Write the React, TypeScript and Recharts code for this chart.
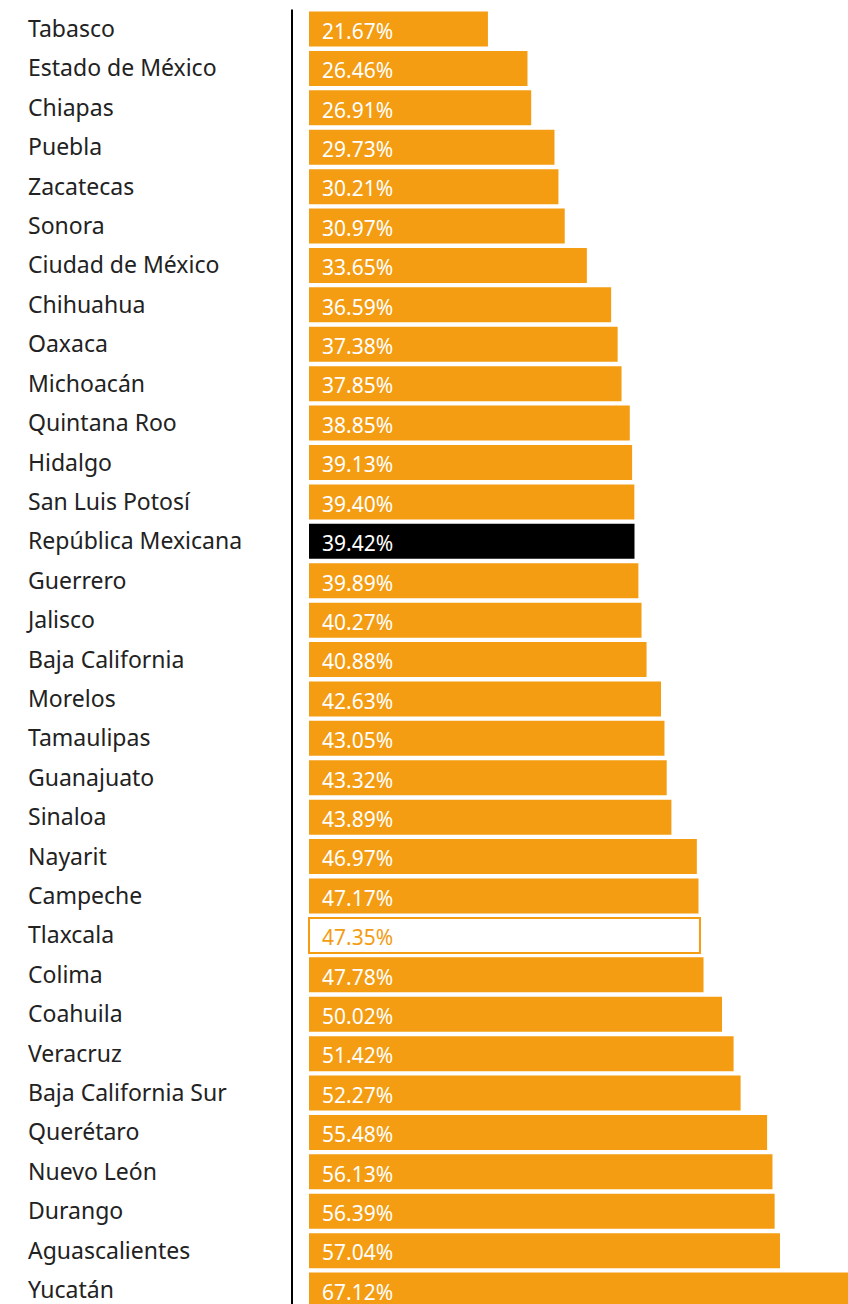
import { BarChart, Bar, XAxis, YAxis, Cell, LabelList } from "recharts";

const states = [
  "Tabasco",
  "Estado de México",
  "Chiapas",
  "Puebla",
  "Zacatecas",
  "Sonora",
  "Ciudad de México",
  "Chihuahua",
  "Oaxaca",
  "Michoacán",
  "Quintana Roo",
  "Hidalgo",
  "San Luis Potosí",
  "República Mexicana",
  "Guerrero",
  "Jalisco",
  "Baja California",
  "Morelos",
  "Tamaulipas",
  "Guanajuato",
  "Sinaloa",
  "Nayarit",
  "Campeche",
  "Tlaxcala",
  "Colima",
  "Coahuila",
  "Veracruz",
  "Baja California Sur",
  "Querétaro",
  "Nuevo León",
  "Durango",
  "Aguascalientes",
  "Yucatán",
];

const values = [
  21.67, 26.46, 26.91, 29.73, 30.21, 30.97, 33.65, 36.59, 37.38, 37.85, 38.85,
  39.13, 39.4, 39.42, 39.89, 40.27, 40.88, 42.63, 43.05, 43.32, 43.89, 46.97,
  47.17, 47.35, 47.78, 50.02, 51.42, 52.27, 55.48, 56.13, 56.39, 57.04, 67.12,
];

const nationalName = "República Mexicana";
const outlinedName = "Tlaxcala";

const ORANGE = "#F49C12";

const data = states.map((name, i) => ({ name, value: values[i] }));

const StateTick = (props: any) => (
  <text
    x={28}
    y={props.y}
    dy={7.8}
    fontSize={23}
    fill="#222"
    fontFamily="'Noto Sans', sans-serif"
  >
    {props.payload.value}
  </text>
);

const ValueLabel = (props: any) => {
  const { x, y, height, value, index } = props;
  const name = states[index];
  const color = name === outlinedName ? ORANGE : "#fff";
  return (
    <text
      x={x + 13}
      y={y + height / 2 + 9.8}
      fontSize={21}
      fill={color}
      fontFamily="'Noto Sans', sans-serif"
    >
      {Number(value).toFixed(2)}%
    </text>
  );
};

export default function App() {
  return (
    <div
      style={{
        position: "absolute",
        top: 0,
        left: 0,
        width: 848,
        height: 1304,
        overflow: "hidden",
        background: "#fff",
      }}
    >
      <BarChart
        width={887}
        height={1310}
        data={data}
        layout="vertical"
        margin={{ top: 9.5, right: 0, bottom: 0, left: 0 }}
        barSize={35}
      >
        <XAxis type="number" domain={[0, 70]} hide padding={{ left: 17, right: 0 }} />
        <YAxis
          type="category"
          dataKey="name"
          width={292}
          interval={0}
          tickLine={false}
          axisLine={{ stroke: "#000", strokeWidth: 2 }}
          tick={StateTick}
        />
        <Bar dataKey="value" isAnimationActive={false}>
          {data.map((d) => (
            <Cell
              key={d.name}
              fill={d.name === nationalName ? "#000" : d.name === outlinedName ? "#fff" : ORANGE}
              stroke={d.name === outlinedName ? ORANGE : "none"}
              strokeWidth={d.name === outlinedName ? 2 : 0}
            />
          ))}
          <LabelList dataKey="value" content={ValueLabel} />
        </Bar>
      </BarChart>
    </div>
  );
}
